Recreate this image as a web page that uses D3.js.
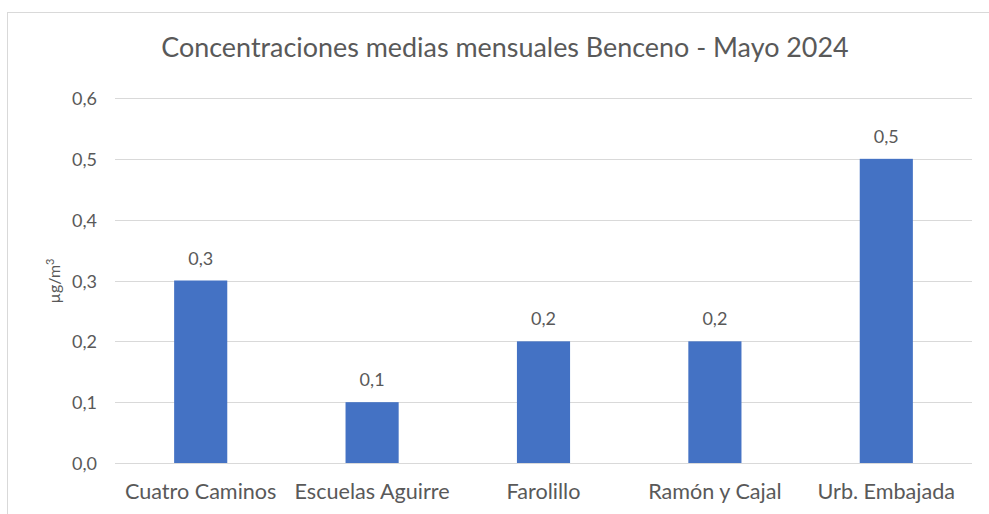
<!DOCTYPE html>
<html>
<head>
<meta charset="utf-8">
<script src="https://cdn.jsdelivr.net/npm/d3@7"></script>
<style>
  body { margin: 0; background: #fff; }
  text { font-family: Lato, "Open Sans", sans-serif; fill: #595959; }
</style>
</head>
<body>
<script>
// chart data
const stations = ["Cuatro Caminos", "Escuelas Aguirre", "Farolillo", "Ramón y Cajal", "Urb. Embajada"];
const benceno = [0.3, 0.1, 0.2, 0.2, 0.5];
const yTicks = [0, 0.1, 0.2, 0.3, 0.4, 0.5, 0.6];
const chartTitle = "Concentraciones medias mensuales Benceno - Mayo 2024";

const width = 989, height = 514;
const plot = { left: 115, right: 972, top: 98, bottom: 463 };
const fmt = v => d3.format(".1f")(v).replace(".", ",");

const svg = d3.select("body").append("svg")
  .attr("width", width)
  .attr("height", height);

// chart border
svg.append("rect")
  .attr("x", 7.5).attr("y", 12.5)
  .attr("width", 1000).attr("height", 540)
  .attr("fill", "none")
  .attr("stroke", "#d9d9d9");

const x = d3.scaleBand()
  .domain(stations)
  .range([plot.left, plot.right])
  .paddingInner(0.69)
  .paddingOuter(0.345);

const y = d3.scaleLinear()
  .domain([0, 0.6])
  .range([plot.bottom, plot.top]);

// gridlines
svg.append("g")
  .selectAll("line")
  .data(yTicks)
  .join("line")
  .attr("x1", plot.left).attr("x2", plot.right)
  .attr("y1", d => Math.round(y(d)) + 0.5)
  .attr("y2", d => Math.round(y(d)) + 0.5)
  .attr("stroke", "#d9d9d9")
  .attr("stroke-width", 1);

// y tick labels
svg.append("g")
  .selectAll("text")
  .data(yTicks)
  .join("text")
  .attr("x", 97)
  .attr("y", d => y(d) + 7)
  .attr("text-anchor", "end")
  .style("font-size", "18px")
  .text(fmt);

// bars
svg.append("g")
  .selectAll("rect")
  .data(benceno)
  .join("rect")
  .attr("x", (d, i) => x(stations[i]))
  .attr("y", d => y(d))
  .attr("width", x.bandwidth())
  .attr("height", d => y(0) - y(d))
  .attr("fill", "#4472c4");

// value labels
svg.append("g")
  .selectAll("text")
  .data(benceno)
  .join("text")
  .attr("x", (d, i) => x(stations[i]) + x.bandwidth() / 2)
  .attr("y", d => y(d) - 16)
  .attr("text-anchor", "middle")
  .style("font-size", "18px")
  .text(fmt);

// x category labels
svg.append("g")
  .selectAll("text")
  .data(stations)
  .join("text")
  .attr("x", d => x(d) + x.bandwidth() / 2)
  .attr("y", 499)
  .attr("text-anchor", "middle")
  .style("font-size", "21.6px")
  .text(d => d);

// title
svg.append("text")
  .attr("x", 505)
  .attr("y", 57)
  .attr("text-anchor", "middle")
  .style("font-size", "26.9px")
  .text(chartTitle);

// y axis label
const yLabel = svg.append("text")
  .attr("transform", "translate(60, 281) rotate(-90)")
  .attr("text-anchor", "middle")
  .style("font-size", "16px");
yLabel.append("tspan").text("µg/m");
yLabel.append("tspan").attr("baseline-shift", "super").style("font-size", "11px").text("3");
</script>
</body>
</html>
